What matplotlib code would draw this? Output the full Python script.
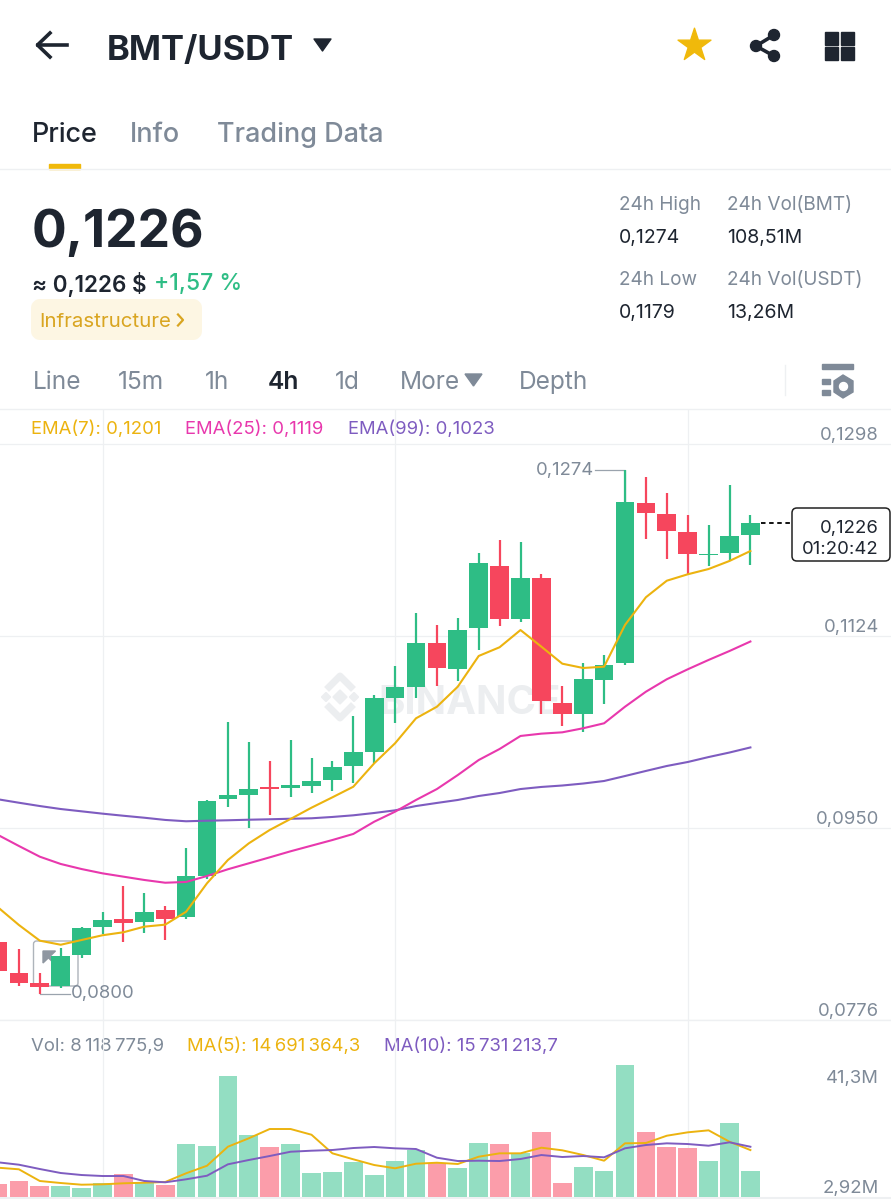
import numpy as np
import matplotlib
matplotlib.use("Agg")
import matplotlib.pyplot as plt
from matplotlib.patches import FancyBboxPatch, Polygon, Circle, Rectangle

plt.rcParams['font.family'] = ['Inter', 'DejaVu Sans']

# candles, oldest first
opens = [0.08467, 0.08183, 0.08095, 0.08071, 0.08349, 0.08600, 0.08675, 0.08648, 0.08754, 0.08691,
         0.09065, 0.09760, 0.09802, 0.09869, 0.09860, 0.09881, 0.09932, 0.10062, 0.10191, 0.10678,
         0.10781, 0.11179, 0.10941, 0.11313, 0.11877, 0.11391, 0.11768, 0.10636, 0.10530, 0.10841,
         0.10993, 0.12448, 0.12348, 0.12185, 0.11974, 0.11995, 0.12153]
highs = [0.08467, 0.08406, 0.08183, 0.08413, 0.08606, 0.08741, 0.08977, 0.08908, 0.08796, 0.09316,
         0.09754, 0.10463, 0.10277, 0.10107, 0.10298, 0.10137, 0.10107, 0.10515, 0.10705, 0.10968,
         0.11446, 0.11340, 0.11400, 0.11989, 0.12110, 0.12089, 0.11799, 0.10787, 0.10998, 0.11068,
         0.12740, 0.12678, 0.12539, 0.12337, 0.12249, 0.12608, 0.12337]
lows = [0.08201, 0.08068, 0.08000, 0.08053, 0.08319, 0.08537, 0.08470, 0.08546, 0.08485, 0.08673,
        0.09041, 0.09688, 0.09497, 0.09618, 0.09778, 0.09820, 0.09838, 0.09911, 0.10086, 0.10454,
        0.10675, 0.10787, 0.10832, 0.11113, 0.11331, 0.11367, 0.10530, 0.10427, 0.10373, 0.10621,
        0.10977, 0.12119, 0.11935, 0.11793, 0.11877, 0.11922, 0.11881]
closes = [0.08201, 0.08093, 0.08062, 0.08343, 0.08596, 0.08666, 0.08639, 0.08741, 0.08678, 0.09065,
          0.09745, 0.09796, 0.09856, 0.09851, 0.09890, 0.09926, 0.10056, 0.10186, 0.10675, 0.10778,
          0.11179, 0.10950, 0.11294, 0.11899, 0.11394, 0.11768, 0.10651, 0.10530, 0.10848, 0.10977,
          0.12457, 0.12352, 0.12192, 0.11983, 0.11986, 0.12146, 0.12260]

ema7 = [0.08781, 0.08621, 0.08479, 0.08442, 0.08485, 0.08528, 0.08555, 0.08606, 0.08624, 0.08741,
        0.08999, 0.09210, 0.09361, 0.09482, 0.09582, 0.09684, 0.09778, 0.09874, 0.10086, 0.10268,
        0.10494, 0.10599, 0.10781, 0.11059, 0.11138, 0.11294, 0.11143, 0.10989, 0.10950, 0.10962,
        0.11340, 0.11591, 0.11741, 0.11799, 0.11847, 0.11920, 0.12010]
ema25 = [0.09437, 0.09337, 0.09240, 0.09174, 0.09128, 0.09089, 0.09059, 0.09029, 0.09004, 0.09011,
         0.09065, 0.09126, 0.09180, 0.09234, 0.09289, 0.09340, 0.09391, 0.09446, 0.09557, 0.09648,
         0.09754, 0.09853, 0.09980, 0.10116, 0.10216, 0.10334, 0.10355, 0.10367, 0.10404, 0.10449,
         0.10599, 0.10735, 0.10848, 0.10938, 0.11023, 0.11104, 0.11190]
ema99 = [0.09760, 0.09729, 0.09699, 0.09672, 0.09651, 0.09630, 0.09611, 0.09593, 0.09573, 0.09561,
         0.09566, 0.09570, 0.09575, 0.09579, 0.09584, 0.09588, 0.09600, 0.09615, 0.09636, 0.09660,
         0.09699, 0.09727, 0.09754, 0.09790, 0.09817, 0.09853, 0.09872, 0.09885, 0.09903, 0.09926,
         0.09971, 0.10017, 0.10062, 0.10098, 0.10143, 0.10184, 0.10230]

# volume in millions
volumes = [4.16, 5.10, 3.44, 3.44, 2.92, 4.29, 7.20, 4.60, 3.75, 16.49,
           15.86, 37.86, 19.49, 15.74, 16.68, 7.42, 7.92, 10.86, 6.88, 11.17,
           14.61, 10.54, 9.17, 16.80, 16.58, 13.67, 20.24, 4.29, 9.48, 8.23,
           41.30, 20.43, 15.74, 15.24, 11.17, 23.15, 8.12]
ma5 = [9.17, 8.67, 5.01, 4.38, 3.85, 3.97, 4.29, 4.47, 4.69, 7.42,
       9.79, 15.74, 18.37, 21.28, 21.28, 19.49, 13.67, 11.80, 10.01, 8.98,
       10.42, 10.73, 10.33, 12.61, 13.67, 13.67, 15.43, 14.61, 13.14, 11.36,
       16.80, 16.90, 19.18, 20.24, 20.87, 17.30, 14.69]
ma10 = [10.86, 10.11, 8.76, 7.51, 6.88, 6.57, 6.57, 5.01, 4.60, 5.54,
        6.66, 10.23, 11.58, 12.83, 14.17, 14.49, 14.71, 15.33, 15.65, 15.24,
        15.02, 12.30, 11.26, 11.36, 11.26, 11.89, 13.14, 12.52, 12.83, 12.42,
        15.24, 16.27, 16.80, 16.58, 16.05, 17.12, 15.73]

price_ticks = [0.1298, 0.1124, 0.0950, 0.0776]
price_tick_labels = ['0,1298', '0,1124', '0,0950', '0,0776']
grid_candles = [5, 19, 33]
tabs = ['Price', 'Info', 'Trading Data']
intervals = ['Line', '15m', '1h', '4h', '1d', 'More', 'Depth']

GREEN = '#2ebd85'
RED = '#f6465d'
VOL_GREEN = '#93dec2'
VOL_RED = '#fb9daa'
YELLOW = '#ecb30f'
PINK = '#e838ad'
PURPLE = '#7e5cc0'
DARK = '#1e2530'
GRAY = '#7f8a98'
LIGHT = '#eef0f2'
MARK = '#eceef0'

W, H = 891, 1200
fig = plt.figure(figsize=(W / 100, H / 100), dpi=100, facecolor='white')

# whole page in pixels, for the app chrome around the chart
ui = fig.add_axes([0, 0, 1, 1], zorder=0)
ui.set_xlim(0, W)
ui.set_ylim(H, 0)
ui.axis('off')


def txt(x, y, s, size, color=DARK, weight='normal', ha='left', axis=ui):
    return axis.text(x, y, s, fontsize=size * 0.72, color=color, fontweight=weight,
                     ha=ha, va='center_baseline')


def panel(top, bottom):
    a = fig.add_axes([0, (H - bottom) / H, 1, (bottom - top) / H], zorder=2)
    a.patch.set_alpha(0)
    for s in a.spines.values():
        s.set_visible(False)
    a.tick_params(length=0, labelleft=False, labelbottom=False)
    a.set_xlim(2 / 20.9, 893 / 20.9)
    a.set_xticks(grid_candles)
    a.grid(axis='x', color=LIGHT, lw=0.9)
    a.set_axisbelow(True)
    return a


x = np.arange(len(closes))
colors = [GREEN if c >= o else RED for o, c in zip(opens, closes)]
vol_colors = [VOL_GREEN if c >= o else VOL_RED for o, c in zip(opens, closes)]

# price panel runs from y=410 to y=1020
ax = panel(410, 1020)
ax.set_ylim(0.0776, 0.13288)
ax.set_yticks(price_ticks)
ax.grid(axis='y', color=LIGHT, lw=0.9)
ax.vlines(x, lows, highs, color=colors, lw=1.6, zorder=3)
ax.bar(x, np.abs(np.array(closes) - np.array(opens)), bottom=np.minimum(opens, closes),
       width=0.89, color=colors, zorder=3)
ax.plot(x, ema99, color=PURPLE, lw=1.5, zorder=4)
ax.plot(x, ema25, color=PINK, lw=1.5, zorder=4)
ax.plot(x, ema7, color=YELLOW, lw=1.5, zorder=5)
for value, label in zip(price_ticks, price_tick_labels):
    ax.annotate(label, xy=(1, value), xycoords=ax.get_yaxis_transform(), xytext=(-8.6, 2.6),
                textcoords='offset points', ha='right', va='baseline', fontsize=13.3, color=GRAY)

# high / low leaders
hi = int(np.argmax(highs))
lo = int(np.argmin(lows))
ax.plot([hi - 1.45, hi, hi], [highs[hi], highs[hi], closes[hi]], color='#9aa3ad', lw=0.9, zorder=2)
ax.plot([lo, lo + 1.45], [lows[lo], lows[lo]], color='#9aa3ad', lw=0.9, zorder=2)
ax.annotate('0,1274', xy=(hi - 1.5, highs[hi]), xytext=(0, 0), textcoords='offset points',
            ha='right', va='center', fontsize=13.3, color=GRAY)
ax.annotate('0,0800', xy=(lo + 1.5, lows[lo]), xytext=(-0.5, 0), textcoords='offset points',
            ha='left', va='center', fontsize=13.3, color=GRAY)

# last price dashes to the countdown box
ax.plot([x[-1] + 0.5, x[-1] + 2], [closes[-1], closes[-1]], color='black', lw=1.3,
        ls=(0, (2.5, 2)), zorder=5)

# volume panel runs from y=1020 to y=1197
vx = panel(1020, 1197)
vx.set_ylim(0, 55.4)
vx.bar(x, volumes, width=0.89, color=vol_colors, zorder=3)
vx.plot(x, ma5, color=YELLOW, lw=1.4, zorder=4)
vx.plot(x, ma10, color=PURPLE, lw=1.4, zorder=5)

# chart frame lines
ui.plot([0, W], [409, 409], color=LIGHT, lw=1)
ui.plot([0, W], [1020, 1020], color=LIGHT, lw=1)
ui.plot([0, W], [1197.5, 1197.5], color=LIGHT, lw=1.5)
ui.plot([0, W], [169, 169], color=LIGHT, lw=1)

# watermark
txt(378, 699, 'BINANCE', 40, color=MARK, weight='bold')
for cx, cy, r in [(340, 697, 7), (326, 697, 4.5), (354, 697, 4.5)]:
    ui.add_patch(Polygon([(cx - r, cy), (cx, cy - r), (cx + r, cy), (cx, cy + r)], color=MARK))
ui.plot([329, 340, 351], [687, 676, 687], color=MARK, lw=5)
ui.plot([329, 340, 351], [707, 718, 707], color=MARK, lw=5)

# header
ui.plot([38, 67], [45, 45], color=DARK, lw=2.6)
ui.plot([50, 37.5, 50], [33, 45, 57], color=DARK, lw=2.6)
txt(107, 47, 'BMT/USDT', 34.5, weight='bold')
ui.add_patch(Polygon([(314, 39), (331, 39), (322.5, 51)], color=DARK, joinstyle='round'))
ui.scatter([694], [45], marker='*', s=620, color='#f0b90b', zorder=3)
for cx, cy in [(774, 35), (756, 46), (774, 56)]:
    ui.add_patch(Circle((cx, cy), 5.5, color=DARK))
ui.plot([774, 756, 774], [35, 46, 56], color=DARK, lw=2.6)
for gx, gy in [(825, 32), (841, 32), (825, 47), (841, 47)]:
    ui.add_patch(Rectangle((gx, gy), 12.5, 12.5, color=DARK))

# tabs
txt(32, 132, tabs[0], 27, weight='medium')
txt(130, 132, tabs[1], 27, color=GRAY, weight='medium')
txt(217, 132, tabs[2], 27, color=GRAY, weight='medium')
ui.add_patch(Rectangle((49, 163.5), 31, 5.5, color='#f0b90b'))

# price block
txt(32, 228, '0,1226', 51.5, weight='bold')
txt(32, 282, '≈ 0,1226 $', 22.5, weight='semibold')
txt(154, 282, '+1,57 %', 23, color=GREEN, weight='medium')
ui.add_patch(FancyBboxPatch((37, 305), 159, 29, boxstyle='round,pad=0,rounding_size=3',
                            mutation_aspect=1, lw=8.6, ec='#fdf6e3', fc='#fdf6e3', joinstyle='round'))
txt(39, 320, 'Infrastructure', 20.5, color='#d9a521')
ui.plot([178, 183, 178], [314.5, 320, 325.5], color='#d9a521', lw=1.6)

# 24h stats
txt(619, 203, '24h High', 19, color=GRAY)
txt(727, 203, '24h Vol(BMT)', 19, color=GRAY)
txt(619, 236, '0,1274', 19.5)
txt(727, 236, '108,51M', 19.5)
txt(619, 278, '24h Low', 19, color=GRAY)
txt(727, 278, '24h Vol(USDT)', 19, color=GRAY)
txt(619, 311, '0,1179', 19.5)
txt(727, 311, '13,26M', 19.5)

# interval row
for label, px in zip(intervals, [33, 118, 205, 268, 335, 400, 519]):
    if label == '4h':
        txt(px, 380, label, 24.5, weight='semibold')
    else:
        txt(px, 380, label, 24.5, color=GRAY)
ui.add_patch(Polygon([(465, 374), (482, 374), (473.5, 386)], color=GRAY))
ui.plot([785, 785], [365, 395], color=LIGHT, lw=1)
ui.add_patch(Rectangle((822, 364), 31, 5, color=GRAY))
ui.add_patch(Rectangle((822, 379), 8, 5, color=GRAY))
ui.add_patch(Rectangle((822, 390), 8, 5, color=GRAY))
ui.add_patch(Polygon([(843, 375), (853, 381), (853, 392), (843, 398), (834, 392), (834, 381)], color=GRAY))
ui.add_patch(Circle((843.5, 386.5), 4, color='white'))

# legends
txt(31, 427, 'EMA(7): 0,1201', 18.5, color=YELLOW)
txt(185, 427, 'EMA(25): 0,1119', 18.5, color=PINK)
txt(348, 427, 'EMA(99): 0,1023', 18.5, color=PURPLE)
txt(31, 1044, 'Vol: 8\u2009118\u2009775,9', 18.5, color=GRAY)
txt(187, 1044, 'MA(5): 14\u2009691\u2009364,3', 18.5, color=YELLOW)
txt(384, 1044, 'MA(10): 15\u2009731\u2009213,7', 18.5, color=PURPLE)
txt(879, 1077, '41,3M', 18.5, color=GRAY, ha='right')
txt(879, 1186, '2,92M', 18.5, color=GRAY, ha='right')

# selection box and arrow behind the candles
ui.add_patch(FancyBboxPatch((33.5, 941), 44.5, 45, boxstyle='round,pad=0,rounding_size=3',
                            fc='none', ec='#aeb4bb', lw=1))
ui.add_patch(Polygon([(43, 951), (55.5, 951), (43, 963)], color='#8f97a1'))
ui.plot([47, 60], [955, 968], color='#8f97a1', lw=2.4)

# countdown box sits on top of everything
top = fig.add_axes([0, 0, 1, 1], zorder=6)
top.set_xlim(0, W)
top.set_ylim(H, 0)
top.axis('off')
top.add_patch(FancyBboxPatch((792, 508), 98, 53, boxstyle='round,pad=0,rounding_size=5',
                             fc='white', ec='#222222', lw=1.1))
txt(879, 526, '0,1226', 18.5, ha='right', axis=top)
txt(879, 547, '01:20:42', 18.5, ha='right', axis=top)

fig.savefig('out.png', dpi=100)
